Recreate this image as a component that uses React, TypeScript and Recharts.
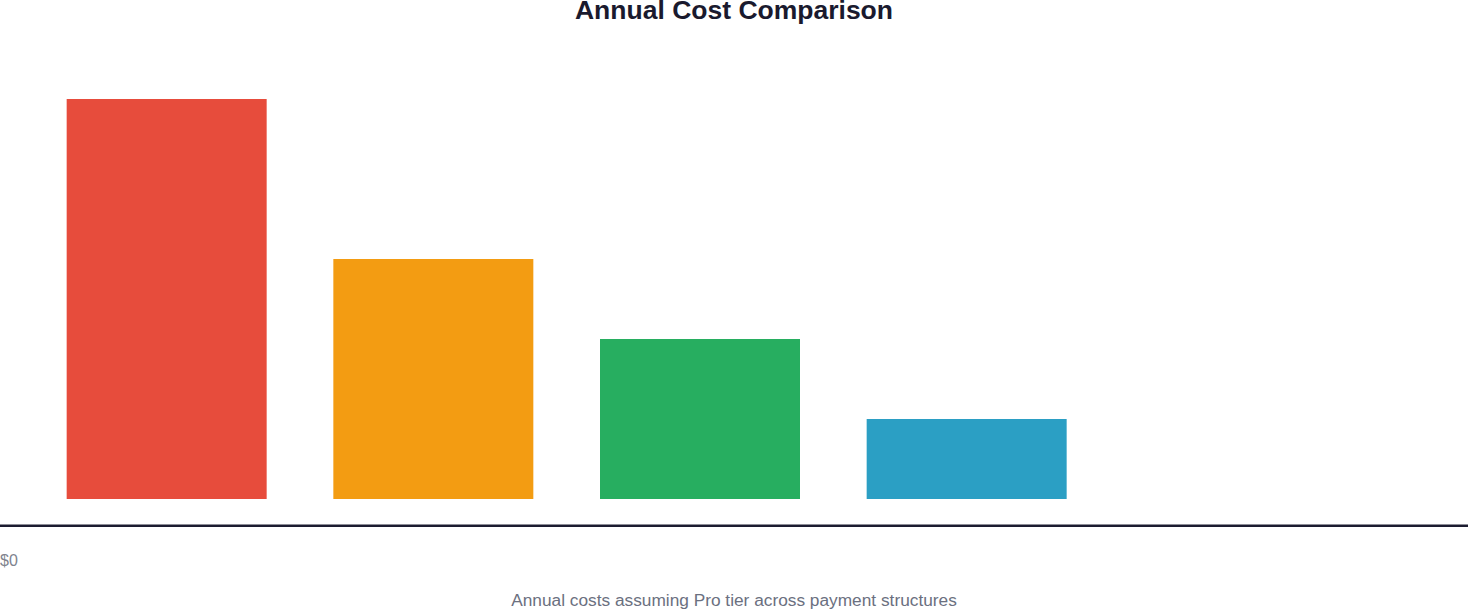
import { Bar, BarChart, Cell, XAxis, YAxis } from 'recharts'

const plans = ['Monthly', 'Quarterly', 'Annual', 'Prepaid']
const annualCosts = [600, 360, 240, 120]
const barColors = ['#e74c3c', '#f39c12', '#27ae60', '#2b9fc4']
const yTicks = [0]

const data = plans.map((plan, i) => ({ plan, cost: annualCosts[i] }))

const FONT = '"Liberation Sans", Arial, sans-serif'

function DollarTick({ y, payload }: { y?: number; payload?: { value: number } }) {
  return (
    <text x={0} y={(y ?? 0) + 67} fontSize={16} fontFamily={FONT} fill="#80838e">
      {`$${payload?.value ?? 0}`}
    </text>
  )
}

export default function App() {
  return (
    <div style={{ position: 'relative', width: 1468, height: 610, fontFamily: FONT }}>
      <style>{'body{margin:0}'}</style>
      <div
        style={{
          position: 'absolute',
          top: 0,
          left: 0,
          width: 1468,
          textAlign: 'center',
          fontSize: 26.5,
          lineHeight: '21.8px',
          fontWeight: 700,
          color: '#1a1a2e',
        }}
      >
        Annual Cost Comparison
      </div>
      <BarChart
        width={1468}
        height={610}
        data={data}
        margin={{ top: 99, right: 0, bottom: 83.2, left: -1 }}
      >
        <XAxis
          dataKey="plan"
          height={1}
          tick={false}
          tickLine={false}
          axisLine={{ stroke: '#1c1c30', strokeWidth: 2.6 }}
          padding={{ left: 33.67, right: 367.67 }}
        />
        <YAxis
          width={1}
          domain={[0, 600]}
          ticks={yTicks}
          padding={{ top: 0, bottom: 26.8 }}
          axisLine={false}
          tickLine={false}
          tick={<DollarTick />}
        />
        <Bar dataKey="cost" barSize={200} isAnimationActive={false}>
          {data.map((d, i) => (
            <Cell key={d.plan} fill={barColors[i]} />
          ))}
        </Bar>
      </BarChart>
      <div
        style={{
          position: 'absolute',
          top: 591.8,
          left: 0,
          width: 1468,
          textAlign: 'center',
          fontSize: 17.3,
          lineHeight: '17.3px',
          color: '#6b7080',
        }}
      >
        Annual costs assuming Pro tier across payment structures
      </div>
    </div>
  )
}
